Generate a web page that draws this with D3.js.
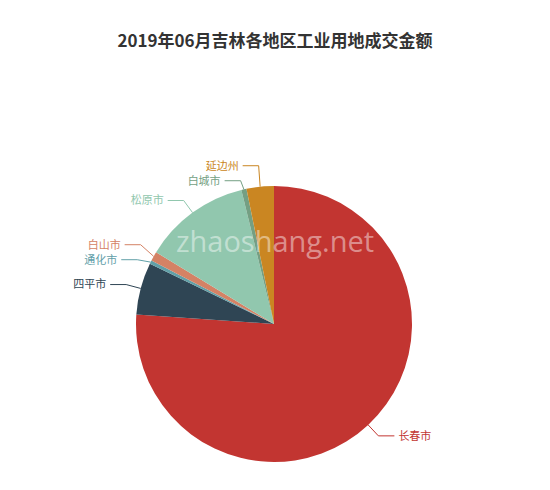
<!DOCTYPE html>
<html><head><meta charset="utf-8">
<script src="https://cdn.jsdelivr.net/npm/d3@7/dist/d3.min.js"></script>
<style>body{margin:0;background:#fff}</style>
</head><body><div id="chart"></div>
<script>
var regions = ['长春市', '四平市', '通化市', '白山市', '松原市', '白城市', '延边州'];
var amounts = [76.1, 6.1, 0.4, 1.1, 12.5, 0.6, 3.2];
var colors = ['#c23531', '#2f4554', '#61a0a8', '#d48265', '#91c7ae', '#749f83', '#ca8622'];

var width = 550, height = 490, cx = 274, cy = 324, r = 138;
var svg = d3.select('#chart').append('svg').attr('width', width).attr('height', height);

svg.append('text').attr('x', width / 2).attr('y', 47).attr('text-anchor', 'middle')
    .attr('font-family', 'Noto Sans CJK SC').attr('font-weight', 'bold').attr('font-size', 17)
    .attr('fill', '#333').text('2019年06月吉林各地区工业用地成交金额');

var data = regions.map(function(d, i){ return {name: d, value: amounts[i], color: colors[i]}; });
var arcs = d3.pie().sort(null).value(function(d){ return d.value; })(data);
var arc = d3.arc().innerRadius(0).outerRadius(r);
var g = svg.append('g').attr('transform', 'translate(' + cx + ',' + cy + ')');

g.selectAll('path').data(arcs).enter().append('path')
    .attr('d', arc).attr('fill', function(d){ return d.data.color; });

// label positions, pushed apart on each side
var labels = arcs.map(function(d){
    var a = (d.startAngle + d.endAngle) / 2;
    return {d: d, a: a, right: Math.sin(a) >= 0,
	    x0: r * Math.sin(a), y0: -r * Math.cos(a),
	    x1: (r + 15) * Math.sin(a), y1: -(r + 15) * Math.cos(a)};
});
[true, false].forEach(function(side){
    var s = labels.filter(function(l){ return l.right === side; }).sort(function(a, b){ return a.y1 - b.y1; });
    for (var k = 0; k < 10; k++){
	for (var i = 1; i < s.length; i++){
	    var gap = s[i].y1 - s[i - 1].y1;
	    if (gap < 15){ s[i].y1 += (15 - gap) / 2; s[i - 1].y1 -= (15 - gap) / 2; }
	}
    }
});
labels.forEach(function(l){
    var dir = l.right ? 1 : -1;
    var x2 = l.x1 + dir * 16;
    g.append('polyline').attr('points', [[l.x0, l.y0], [l.x1, l.y1], [x2, l.y1]].join(' '))
	.attr('fill', 'none').attr('stroke', l.d.data.color).attr('stroke-width', 1);
    g.append('text').attr('x', x2 + dir * 4).attr('y', l.y1).attr('dy', '0.35em')
	.attr('text-anchor', l.right ? 'start' : 'end')
	.attr('font-family', 'Noto Sans CJK SC').attr('font-size', 11)
	.attr('fill', l.d.data.color).text(l.d.data.name);
});

svg.append('text').attr('x', 275).attr('y', 252).attr('text-anchor', 'middle')
    .attr('font-family', 'Open Sans').attr('font-size', 29).attr('fill', '#fff')
    .attr('fill-opacity', 0.45).text('zhaoshang.net');
</script></body></html>
